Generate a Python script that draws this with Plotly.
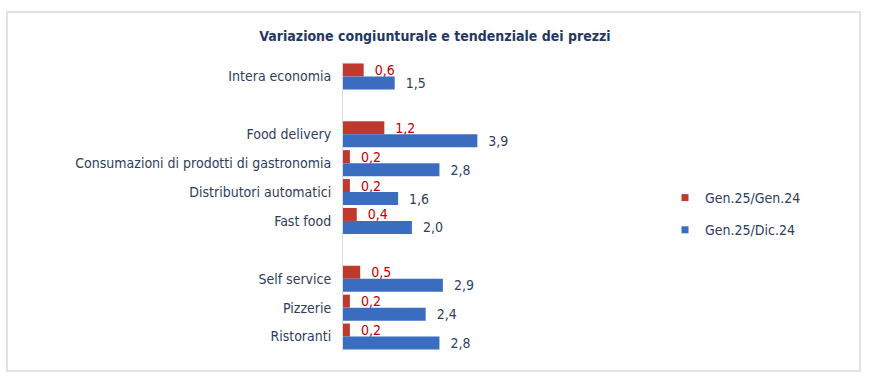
import plotly.graph_objects as go

# Data (top to bottom); blank entries are the spacer rows
categories = ["Intera economia", " ", "Food delivery",
              "Consumazioni di prodotti di gastronomia", "Distributori automatici",
              "Fast food", "  ", "Self service", "Pizzerie", "Ristoranti"]
gen25_gen24 = [0.6, None, 1.2, 0.2, 0.2, 0.4, None, 0.5, 0.2, 0.2]
gen25_dic24 = [1.5, None, 3.9, 2.8, 1.6, 2.0, None, 2.9, 2.4, 2.8]
series_names = ["Gen.25/Gen.24", "Gen.25/Dic.24"]
title_text = "Variazione congiunturale e tendenziale dei prezzi"

RED = "#C0392F"
BLUE = "#3A6CC0"
RED_TXT = "#C00000"
BLUE_TXT = "#2F3F5F"
LABEL_TXT = "#2E3D5C"
FONT = "Liberation Sans Narrow, DejaVu Sans Condensed, Arial Narrow, sans-serif"
PAD = "\u00a0\u00a0"

def fmt(v):
    return "" if v is None else PAD + f"{v:.1f}".replace(".", ",")

fig = go.Figure()
fig.add_trace(go.Bar(
    y=categories, x=gen25_gen24, orientation="h", name=series_names[0],
    marker=dict(color=RED, line=dict(width=0)),
    text=[fmt(v) for v in gen25_gen24], textposition="outside", constraintext="none",
    textfont=dict(color=RED_TXT, size=14, family=FONT), cliponaxis=False,
    showlegend=False, hoverinfo="skip"))
fig.add_trace(go.Bar(
    y=categories, x=gen25_dic24, orientation="h", name=series_names[1],
    marker=dict(color=BLUE, line=dict(width=0)),
    text=[fmt(v) for v in gen25_dic24], textposition="outside", constraintext="none",
    textfont=dict(color=BLUE_TXT, size=14, family=FONT), cliponaxis=False,
    showlegend=False, hoverinfo="skip"))
# legend entries
for name, col in zip(series_names, [RED, BLUE]):
    fig.add_trace(go.Scatter(x=[None], y=[None], mode="markers", name=name,
                             legendgroup=name,
                             marker=dict(symbol="square", size=7, color=col),
                             showlegend=True))

fig.update_layout(
    width=870, height=388,
    margin=dict(l=343, r=372, t=62, b=37, autoexpand=False),
    paper_bgcolor="white", plot_bgcolor="white",
    barmode="group", bargap=0.1, bargroupgap=0,
    title=dict(text="<b>" + title_text + "</b>", x=0.5, xanchor="center",
               xref="container", y=1 - 36 / 388, yref="container", yanchor="middle",
               font=dict(size=14, color="#1F3864", family=FONT)),
    xaxis=dict(range=[0, 4.5], visible=False, fixedrange=True),
    yaxis=dict(categoryorder="array", categoryarray=categories, autorange="reversed",
               showline=True, linecolor="#D6DCE5", linewidth=1, ticks="",
               showgrid=False, zeroline=False, automargin=False, fixedrange=True,
               tickfont=dict(size=14, color=LABEL_TXT, family=FONT), ticklabelstandoff=8),
    legend=dict(x=665 / 870, xref="container", xanchor="left",
                y=1 - 182 / 388, yref="container", yanchor="top",
                font=dict(size=14, color=LABEL_TXT, family=FONT),
                traceorder="grouped", tracegroupgap=11, bgcolor="rgba(0,0,0,0)"),
    shapes=[dict(type="rect", xref="paper", yref="paper",
                 x0=(7 - 343) / 155, x1=(860 - 343) / 155,
                 y0=(351 - 371) / 289, y1=(351 - 12) / 289,
                 line=dict(color="#D9D9D9", width=1.5), fillcolor="rgba(0,0,0,0)",
                 layer="below")],
    showlegend=True,
)

fig.write_html("out.html", config={"displayModeBar": False},
               post_script="document.body.style.margin='0';")
